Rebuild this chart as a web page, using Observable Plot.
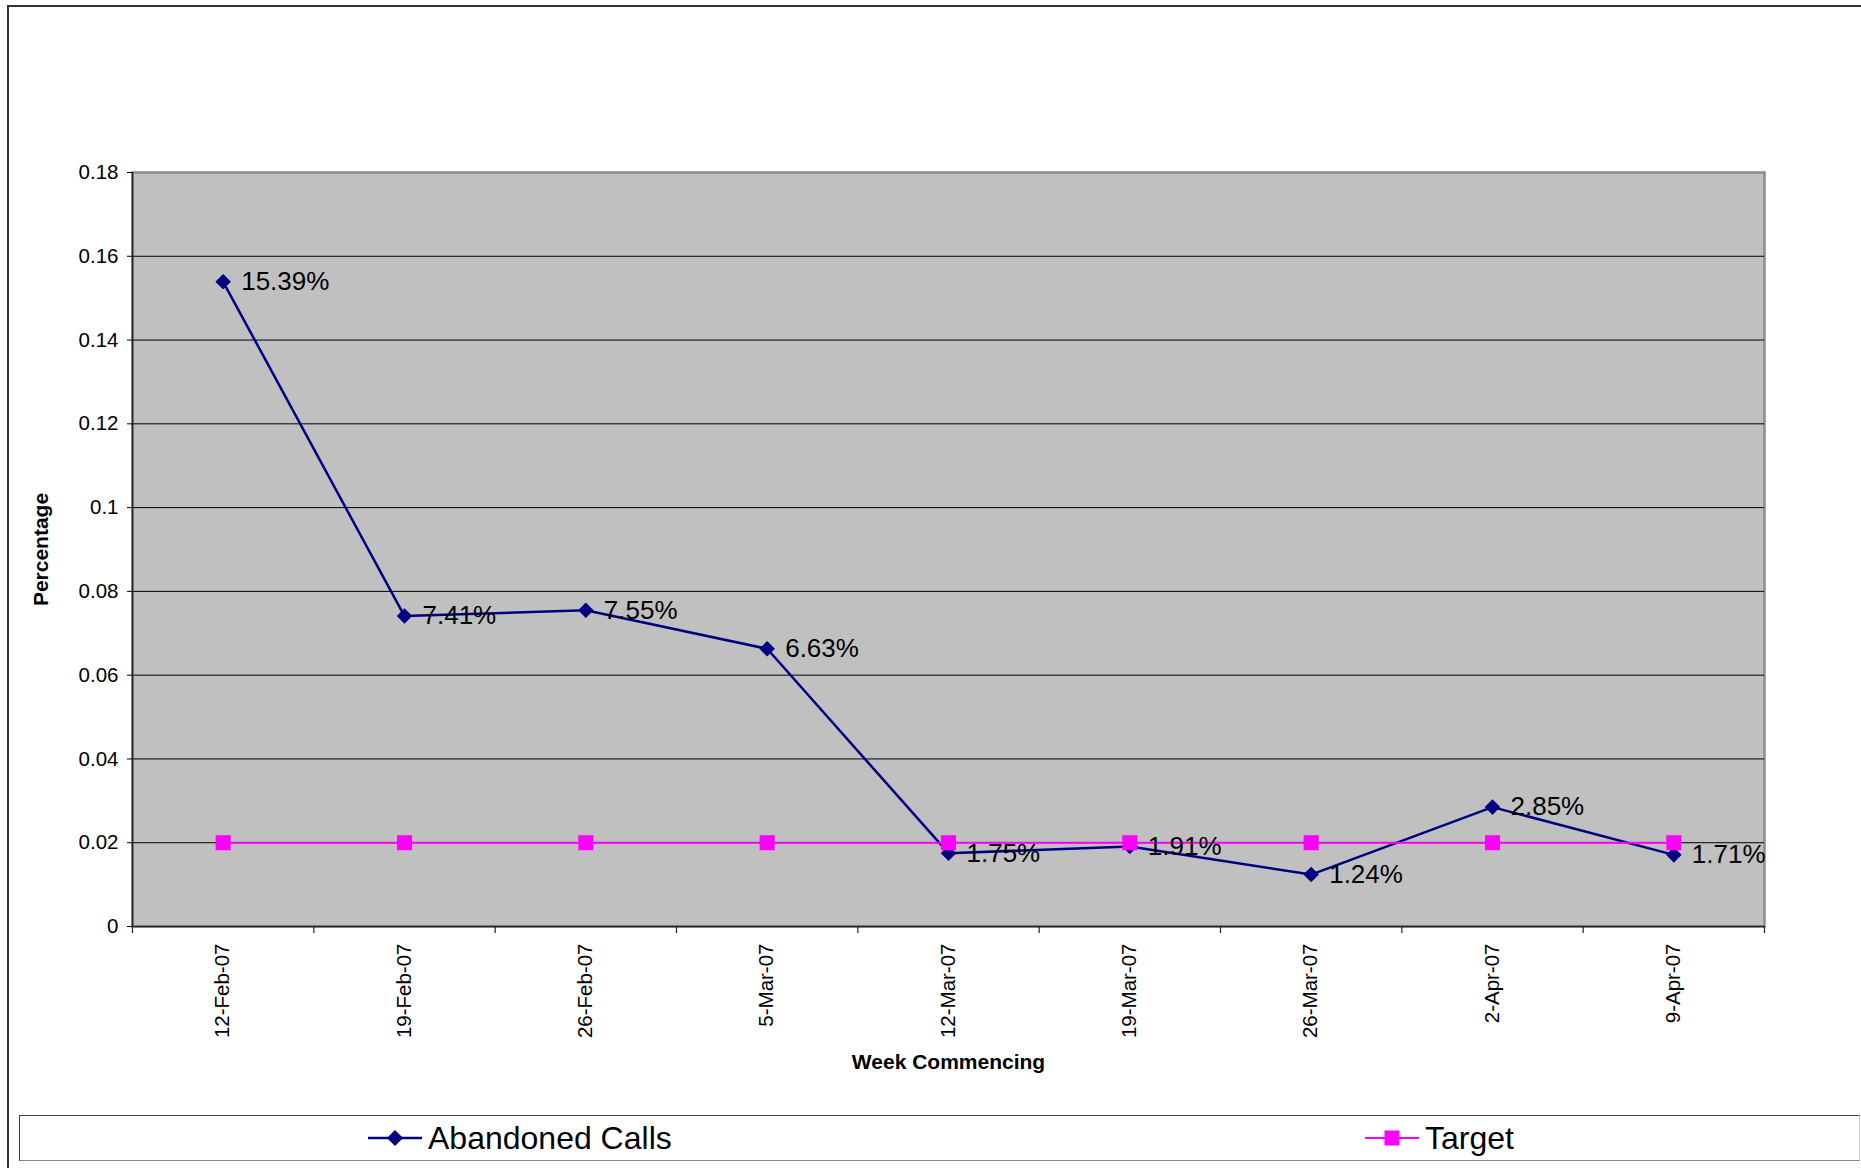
<!DOCTYPE html>
<html>
<head>
<meta charset="utf-8">
<script src="https://cdn.jsdelivr.net/npm/d3@7"></script>
<script src="https://cdn.jsdelivr.net/npm/@observablehq/plot@0.6"></script>
<style>
  html, body { margin: 0; padding: 0; background: #fff; }
  body { width: 1861px; height: 1168px; position: relative; overflow: hidden; font-family: "Liberation Sans", Arial, sans-serif; }
  #outer { position: absolute; left: 7px; top: 5px; width: 1900px; height: 1200px; border-left: 2px solid #333; border-top: 2px solid #333; box-sizing: border-box; }
  #chart { position: absolute; left: 0; top: 0; }
  #legend { position: absolute; left: 19px; top: 1115px; width: 1841px; height: 46px; box-sizing: border-box;
            border: 1.5px solid #444; border-right-color: #ccc; border-bottom-color: #888; background: #fff; }
  .item { position: absolute; top: 0; height: 44px; display: flex; align-items: center; font-size: 32px; color: #000; }
  .item svg { margin-right: 6px; }
</style>
</head>
<body>
<div id="outer"></div>
<div id="chart"></div>
<div id="legend">
  <div class="item" style="left:348px"><svg width="54" height="20"><line x1="0" y1="10" x2="54" y2="10" stroke="#000080" stroke-width="2.5"/><path d="M27,2 L35,10 L27,18 L19,10 Z" fill="#000080"/></svg><span>Abandoned Calls</span></div>
  <div class="item" style="left:1345px"><svg width="54" height="20"><line x1="0" y1="10" x2="54" y2="10" stroke="#FF00FF" stroke-width="2"/><rect x="19.5" y="2.5" width="15" height="15" fill="#FF00FF"/></svg><span>Target</span></div>
</div>
<script>
const weeks = ["12-Feb-07","19-Feb-07","26-Feb-07","5-Mar-07","12-Mar-07","19-Mar-07","26-Mar-07","2-Apr-07","9-Apr-07"];
const abandoned = [0.1539, 0.0741, 0.0755, 0.0663, 0.0175, 0.0191, 0.0124, 0.0285, 0.0171];
const target = [0.02, 0.02, 0.02, 0.02, 0.02, 0.02, 0.02, 0.02, 0.02];
const yTicks = [0, 0.02, 0.04, 0.06, 0.08, 0.1, 0.12, 0.14, 0.16, 0.18];

const idx = (d, i) => i;
const boundaries = d3.range(weeks.length + 1).map(k => k - 0.5);
const font = "'Liberation Sans', Arial, sans-serif";

const plot = Plot.plot({
  width: 1861,
  height: 1110,
  marginLeft: 132,
  marginRight: 97,
  marginTop: 172,
  marginBottom: 184,
  style: { fontFamily: font, background: "transparent", color: "#000" },
  x: { type: "linear", domain: [-0.5, weeks.length - 0.5], axis: null },
  y: { domain: [0, 0.18], axis: null },
  marks: [
    Plot.frame({ fill: "#C0C0C0", stroke: "#8c8c8c", strokeWidth: 2.5 }),
    Plot.ruleY(yTicks.filter(d => d > 0 && d < 0.18), { stroke: "#000", strokeWidth: 1 }),
    Plot.ruleX([-0.5], { stroke: "#222", strokeWidth: 1.5 }),
    Plot.ruleY([0], { stroke: "#222", strokeWidth: 1.5 }),
    Plot.axisY({ ticks: yTicks, tickSize: 5, tickPadding: 9, fontSize: 20.5, label: null,
                 tickFormat: d => String(+d.toFixed(2)) }),
    Plot.ruleX(boundaries, { y1: 0, y2: 0, insetBottom: -7, stroke: "#222", strokeWidth: 1.2 }),
    Plot.text(weeks, { x: idx, frameAnchor: "bottom", text: d => d, rotate: -90, textAnchor: "end", dx: 6, dy: 17, fontSize: 20.5 }),
    Plot.text(["Percentage"], { frameAnchor: "left", text: d => d, rotate: -90, textAnchor: "middle", dx: -91, fontSize: 21, fontWeight: "bold" }),
    Plot.text(["Week Commencing"], { frameAnchor: "bottom", text: d => d, dy: 142, fontSize: 21, fontWeight: "bold" }),
    Plot.line(abandoned, { x: idx, y: d => d, stroke: "#000080", strokeWidth: 2.5 }),
    Plot.dot(abandoned, { x: idx, y: d => d, symbol: "diamond2", r: 7, fill: "#000080" }),
    Plot.line(target, { x: idx, y: d => d, stroke: "#FF00FF", strokeWidth: 2 }),
    Plot.dot(target, { x: idx, y: d => d, symbol: "square", r: 8.5, fill: "#FF00FF" }),
    Plot.text(abandoned, { x: idx, y: d => d, text: d => (d * 100).toFixed(2) + "%", textAnchor: "start", dx: 18, fontSize: 26, fill: "#000" })
  ]
});
document.getElementById("chart").appendChild(plot);
</script>
</body>
</html>
